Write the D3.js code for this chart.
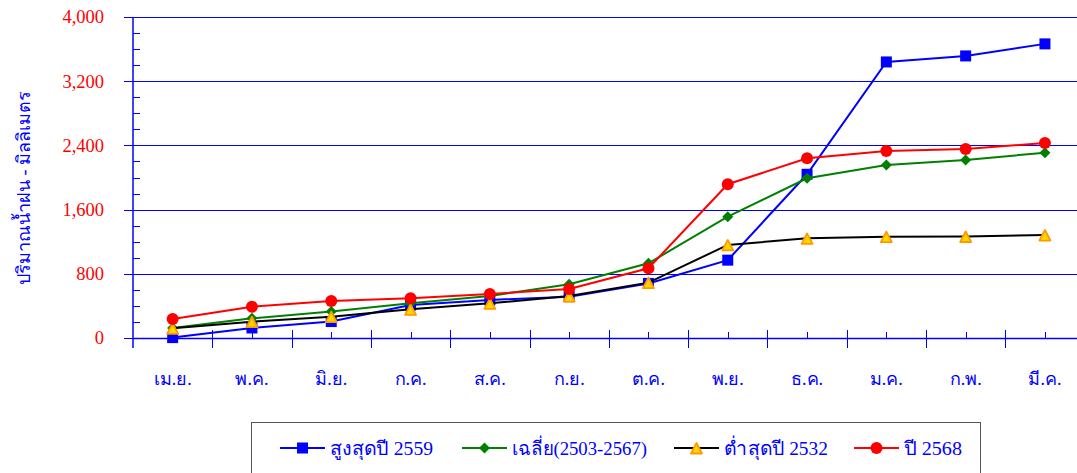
<!DOCTYPE html>
<html lang="th">
<head>
<meta charset="UTF-8">
<title>ปริมาณน้ำฝนสะสม</title>
<script src="https://d3js.org/d3.v7.min.js"></script>
<style>
  html, body { margin: 0; padding: 0; background: #fff; overflow: hidden; }
  svg { display: block; font-family: "Liberation Serif", "Times New Roman", serif; }
</style>
</head>
<body>
<div id="chart"></div>
<script>
// months (Thai water year, Apr - Mar)
const months = ["เม.ย.", "พ.ค.", "มิ.ย.", "ก.ค.", "ส.ค.", "ก.ย.", "ต.ค.", "พ.ย.", "ธ.ค.", "ม.ค.", "ก.พ.", "มี.ค."];

// cumulative rainfall (mm)
const maxYear2559 = [5, 125, 205, 410, 475, 515, 680, 970, 2040, 3440, 3515, 3665];
const average = [125, 245, 330, 432, 523, 669, 931, 1512, 1990, 2156, 2218, 2309];
const minYear2532 = [120, 203, 266, 357, 432, 523, 690, 1160, 1242, 1263, 1265, 1283];
const year2568 = [237, 390, 461, 495, 548, 611, 869, 1916, 2239, 2330, 2355, 2430];

const yTicks = [0, 800, 1600, 2400, 3200, 4000];
const seriesNames = ["สูงสุดปี 2559", "เฉลี่ย(2503-2567)", "ต่ำสุดปี 2532", "ปี 2568"];

const series = [
  { name: seriesNames[0], values: maxYear2559, line: "#0000ff", marker: "square" },
  { name: seriesNames[1], values: average, line: "#008000", marker: "diamond" },
  { name: seriesNames[2], values: minYear2532, line: "#000000", marker: "triangle" },
  { name: seriesNames[3], values: year2568, line: "#ff0000", marker: "circle" }
];

const W = 1077, H = 473;
const plotLeft = 133, plotTop = 17, plotBottom = 338;
const plotW = 951.6; // runs a little past the window edge like the original

const svg = d3.select("#chart").append("svg")
  .attr("width", W)
  .attr("height", H);

const x = d3.scaleBand().domain(months).range([plotLeft, plotLeft + plotW]);
const y = d3.scaleLinear().domain([0, 4000]).range([plotBottom, plotTop]);
const cx = m => x(m) + x.bandwidth() / 2;
const py = v => Math.round(y(v)) + 0.5;

// gridlines
svg.append("g")
  .selectAll("line")
  .data(yTicks.filter(d => d > 0))
  .join("line")
  .attr("x1", plotLeft).attr("x2", W)
  .attr("y1", py).attr("y2", py)
  .attr("stroke", "#0000ff")
  .attr("stroke-width", 1.2);

// y axis - minor ticks inside
const yAxis = svg.append("g");
yAxis.selectAll("line.minor")
  .data(d3.range(200, 4000, 200).filter(d => d % 800 !== 0))
  .join("line")
  .attr("class", "minor")
  .attr("x1", plotLeft).attr("x2", plotLeft + 7)
  .attr("y1", py).attr("y2", py)
  .attr("stroke", "#0000ff");
yAxis.selectAll("line.major")
  .data(yTicks)
  .join("line")
  .attr("class", "major")
  .attr("x1", plotLeft - 9).attr("x2", plotLeft)
  .attr("y1", py).attr("y2", py)
  .attr("stroke", "#0000ff");
yAxis.append("line")
  .attr("x1", plotLeft).attr("x2", plotLeft)
  .attr("y1", plotTop).attr("y2", plotBottom + 10)
  .attr("stroke", "#0000ff").attr("stroke-width", 1.5);
yAxis.selectAll("text")
  .data(yTicks)
  .join("text")
  .attr("x", 104)
  .attr("y", d => y(d))
  .attr("dy", "0.35em")
  .attr("text-anchor", "end")
  .attr("fill", "#ff0000")
  .attr("font-size", 18.5)
  .text(d => d3.format(",")(d));

// y axis title
svg.append("text")
  .attr("transform", "translate(30,188) rotate(-90)")
  .attr("text-anchor", "middle")
  .attr("fill", "#0000ff")
  .attr("font-size", 18)
  .text("ปริมาณน้ำฝน - มิลลิเมตร");

// x axis
const xAxis = svg.append("g");
xAxis.append("line")
  .attr("x1", plotLeft).attr("x2", W)
  .attr("y1", plotBottom + 0.5).attr("y2", plotBottom + 0.5)
  .attr("stroke", "#0000ff").attr("stroke-width", 1.5);
xAxis.selectAll("line.bound")
  .data(months.slice(1))
  .join("line")
  .attr("class", "bound")
  .attr("x1", d => Math.round(x(d)) + 0.5).attr("x2", d => Math.round(x(d)) + 0.5)
  .attr("y1", plotBottom - 8).attr("y2", plotBottom + 10)
  .attr("stroke", "#0000ff");
xAxis.selectAll("line.mid")
  .data(months)
  .join("line")
  .attr("class", "mid")
  .attr("x1", d => Math.round(cx(d)) + 0.5).attr("x2", d => Math.round(cx(d)) + 0.5)
  .attr("y1", plotBottom - 6).attr("y2", plotBottom)
  .attr("stroke", "#0000ff");
xAxis.selectAll("text")
  .data(months)
  .join("text")
  .attr("x", d => cx(d))
  .attr("y", 385)
  .attr("text-anchor", "middle")
  .attr("fill", "#0000ff")
  .attr("font-size", 18)
  .text(d => d);

// marker drawing
function drawMarker(sel, type) {
  if (type === "square") {
    sel.append("rect")
      .attr("x", -5.5).attr("y", -5.5).attr("width", 11).attr("height", 11)
      .attr("fill", "#0000ff");
  } else if (type === "diamond") {
    sel.append("path")
      .attr("d", "M0,-5.5L5.5,0L0,5.5L-5.5,0Z")
      .attr("fill", "#008000");
  } else if (type === "triangle") {
    sel.append("path")
      .attr("d", "M0,-5L5.5,5.5L-5.5,5.5Z")
      .attr("fill", "#ffd700")
      .attr("stroke", "#ff9900")
      .attr("stroke-width", 1.8)
      .attr("stroke-linejoin", "round");
  } else {
    sel.append("circle").attr("r", 6).attr("fill", "#ff0000");
  }
}

const line = d3.line()
  .x((d, i) => cx(months[i]))
  .y(d => y(d));

series.forEach(s => {
  const g = svg.append("g");
  g.append("path")
    .attr("d", line(s.values))
    .attr("fill", "none")
    .attr("stroke", s.line)
    .attr("stroke-width", 2);
  g.selectAll("g.m")
    .data(s.values)
    .join("g")
    .attr("class", "m")
    .attr("transform", (d, i) => `translate(${cx(months[i])},${y(d)})`)
    .each(function () { drawMarker(d3.select(this), s.marker); });
});

// legend
const legend = svg.append("g");
legend.append("rect")
  .attr("x", 251.5).attr("y", 422.5)
  .attr("width", 729).attr("height", 60)
  .attr("fill", "#fff")
  .attr("stroke", "#555");

const legendX = [280, 462, 674, 854];
const legendTextW = [103, 135, 104, 58];
series.forEach((s, i) => {
  const g = legend.append("g").attr("transform", `translate(${legendX[i]},448)`);
  g.append("line")
    .attr("x1", 0).attr("x2", 45)
    .attr("stroke", s.line).attr("stroke-width", 2);
  const m = g.append("g").attr("transform", "translate(22.5,0)");
  drawMarker(m, s.marker);
  g.append("text")
    .attr("x", 50)
    .attr("y", 0)
    .attr("dy", "0.35em")
    .attr("fill", "#0000ff")
    .attr("font-size", 19)
    .attr("textLength", legendTextW[i])
    .attr("lengthAdjust", "spacingAndGlyphs")
    .text(s.name);
});
</script>
</body>
</html>
